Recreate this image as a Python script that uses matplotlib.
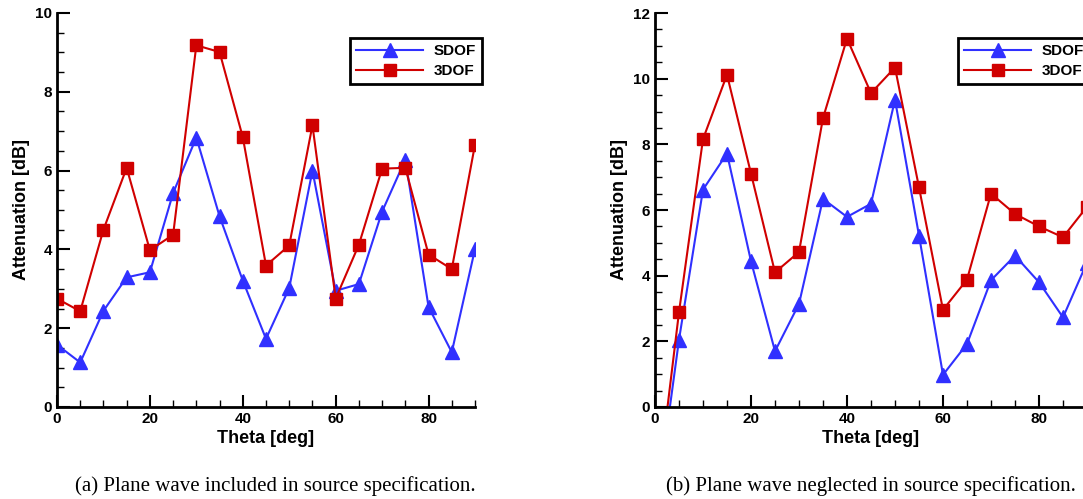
import matplotlib
matplotlib.use("Agg")
import matplotlib.pyplot as plt
from matplotlib.ticker import MultipleLocator
import numpy as np

theta = [0, 5, 10, 15, 20, 25, 30, 35, 40, 45, 50, 55, 60, 65, 70, 75, 80, 85, 90]

# (a) plane wave included
sdof_a = [1.58, 1.13, 2.44, 3.29, 3.42, 5.43, 6.84, 4.84, 3.21, 1.73, 3.02, 6.00,
          2.95, 3.12, 4.96, 6.28, 2.54, 1.39, 4.01]
tdof_a = [2.75, 2.43, 4.50, 6.07, 3.98, 4.37, 9.18, 9.01, 6.85, 3.59, 4.10, 7.15,
          2.75, 4.12, 6.05, 6.07, 3.87, 3.50, 6.66]

# (b) plane wave neglected
sdof_b = [-3.35, 2.05, 6.62, 7.72, 4.44, 1.70, 3.14, 6.34, 5.79, 6.19, 9.36, 5.22,
          0.98, 1.92, 3.86, 4.61, 3.80, 2.73, 4.40]
tdof_b = [-3.14, 2.89, 8.16, 10.12, 7.11, 4.10, 4.72, 8.80, 11.22, 9.56, 10.34, 6.69,
          2.96, 3.88, 6.50, 5.88, 5.50, 5.17, 6.10]

captions = ["(a) Plane wave included in source specification.",
            "(b) Plane wave neglected in source specification."]

plt.rcParams['font.family'] = ['Liberation Sans', 'DejaVu Sans']

W, H = 1083, 499
fig = plt.figure(figsize=(W / 100, H / 100), dpi=100)


def panel(rect, sdof, tdof, ymax, leg_anchor):
    ax = fig.add_axes(rect)
    ax.plot(theta, sdof, color='#3030ff', lw=1.5, marker='^', ms=9.5, label='SDOF')
    ax.plot(theta, tdof, color='#d00000', lw=1.5, marker='s', ms=8.5, label='3DOF')
    ax.set_xlim(0, 90)
    ax.set_ylim(0, ymax)
    ax.xaxis.set_major_locator(MultipleLocator(20))
    ax.xaxis.set_minor_locator(MultipleLocator(5))
    ax.yaxis.set_major_locator(MultipleLocator(2))
    ax.yaxis.set_minor_locator(MultipleLocator(0.5))
    for s in ['top', 'right']:
        ax.spines[s].set_visible(False)
    for s in ['left', 'bottom']:
        ax.spines[s].set_linewidth(2)
    ax.tick_params(which='major', direction='in', length=9, width=1.5,
                   labelsize=11)
    ax.tick_params(which='minor', direction='in', length=5, width=1)
    for lab in ax.get_xticklabels() + ax.get_yticklabels():
        lab.set_fontweight('bold')
    ax.set_xlabel('Theta [deg]', fontsize=13, fontweight='bold', labelpad=3)
    ax.set_ylabel('Attenuation [dB]', fontsize=13, fontweight='bold', labelpad=4)
    leg = ax.legend(loc='upper left', bbox_to_anchor=leg_anchor,
                    bbox_transform=fig.transFigure, fancybox=False,
                    edgecolor='black', handlelength=4.4, handletextpad=0.7,
                    borderpad=0.4, labelspacing=0.4, borderaxespad=0,
                    prop={'weight': 'bold', 'size': 11}, framealpha=1)
    leg.get_frame().set_linewidth(2)
    return ax


panel([57 / W, 92 / H, 418 / W, 394 / H], sdof_a, tdof_a, 10, (350 / W, 1 - 38 / H))
panel([655 / W, 92 / H, 432 / W, 394 / H], sdof_b, tdof_b, 12, (958 / W, 1 - 38 / H))

fig.text(275 / W, 1 - 486 / H, captions[0], ha='center', va='center',
         family='Liberation Serif', fontsize=15)
fig.text(871 / W, 1 - 486 / H, captions[1], ha='center', va='center',
         family='Liberation Serif', fontsize=15)

fig.savefig('out.png', dpi=100)
